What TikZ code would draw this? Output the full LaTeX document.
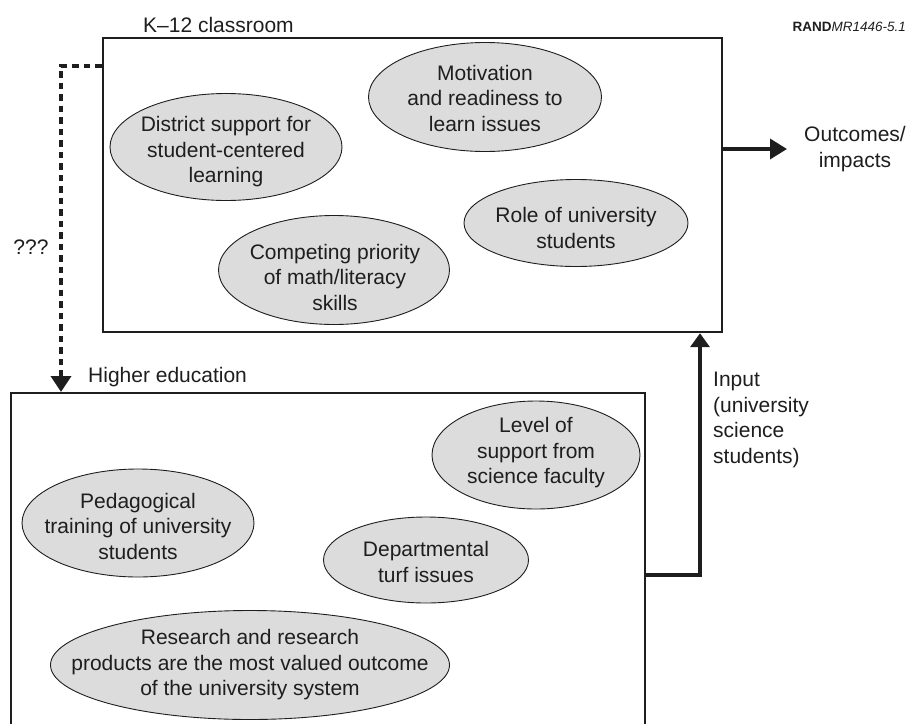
\documentclass[tikz,border=0pt]{standalone}
\usepackage{fontspec}
\setmainfont{Liberation Sans}
\usetikzlibrary{shapes.geometric,arrows.meta}
\definecolor{ellfill}{HTML}{DCDCDC}
\definecolor{ink}{HTML}{1E1E1E}
\tikzset{
  txt/.style={inner sep=0pt, text=ink, font=\fontsize{21}{25.5}\selectfont, align=center},
  issue/.style={ellipse, draw=ink, line width=0.9pt, fill=ellfill, inner sep=0pt},
  frame/.style={draw=ink, line width=2.4pt, inner sep=0pt},
  flowarrow/.style={draw=ink, line width=3.6pt},
  dasharrow/.style={draw=ink, line width=3.6pt, dash pattern=on 6.5pt off 5pt}
}
\begin{document}
\begin{tikzpicture}[x=1pt,y=-1pt]
\useasboundingbox (0,0) rectangle (907,723);
\clip (0,0) rectangle (907,723);
% boxes
\node[frame, minimum width=619pt, minimum height=294pt] (k12) at (412.5,185) {};
\node[frame, line width=2pt, minimum width=634pt, minimum height=370pt] (he) at (328,578) {};
% box labels
\node[txt, anchor=west] (k12lab) at (143,25) {K–12 classroom};
\node[txt, anchor=west] (helab) at (88,377) {Higher education};
\node[inner sep=0pt, text=ink, font=\fontsize{13.5}{15}\selectfont, anchor=east] (rand) at (906,27) {\textbf{RAND}\textit{MR1446-5.1}};
% K-12 issues
\node[issue, minimum width=232pt, minimum height=107pt] (district) at (226,147) {};
\node[txt] (districtT) at (226,152) {District support for\\student-centered\\learning};
\node[issue, minimum width=233pt, minimum height=109pt] (motiv) at (485,97) {};
\node[txt] (motivT) at (485,98) {Motivation\\and readiness to\\learn issues};
\node[issue, minimum width=231pt, minimum height=109pt] (compete) at (334,270) {};
\node[txt] (competeT) at (335,277) {Competing priority\\of math/literacy\\skills};
\node[issue, minimum width=224pt, minimum height=87pt] (role) at (576,223) {};
\node[txt] (roleT) at (576,228) {Role of university\\students};
% Higher-ed issues
\node[issue, minimum width=208pt, minimum height=108pt] (level) at (536,455) {};
\node[txt] (levelT) at (536,453) {Level of\\support from\\science faculty};
\node[issue, minimum width=232pt, minimum height=108pt] (pedag) at (138,523) {};
\node[txt] (pedagT) at (138,526) {Pedagogical\\training of university\\students};
\node[issue, minimum width=205pt, minimum height=86pt] (dept) at (426,560) {};
\node[txt] (deptT) at (426,562) {Departmental\\turf issues};
\node[issue, minimum width=399pt, minimum height=109pt] (research) at (250,665) {};
\node[txt] (researchT) at (250,665) {Research and research\\products are the most valued outcome\\of the university system};
% outside labels
\node[txt] (outc) at (855,149) {Outcomes/\\impacts};
\node[txt, align=left, anchor=west] (input) at (713,420) {Input\\(university\\science\\students)};
\node[txt] (qqq) at (31,247) {???};
% connectors
\coordinate (otip) at (787,149);
\draw[flowarrow, -{Triangle[length=17pt,width=20pt]}] (k12.east |- otip) -- (otip);
\coordinate (bend) at (700,575);
\draw[flowarrow, -{Triangle[length=14pt,width=19pt]}] (he.east |- bend) -- (bend) -- (bend |- k12.south);
\coordinate (dcorner) at (61,66);
\draw[dasharrow, -{Triangle[length=16pt,width=20pt]}] (k12.west |- dcorner) -- (dcorner) -- (dcorner |- he.north);
\end{tikzpicture}
\end{document}
